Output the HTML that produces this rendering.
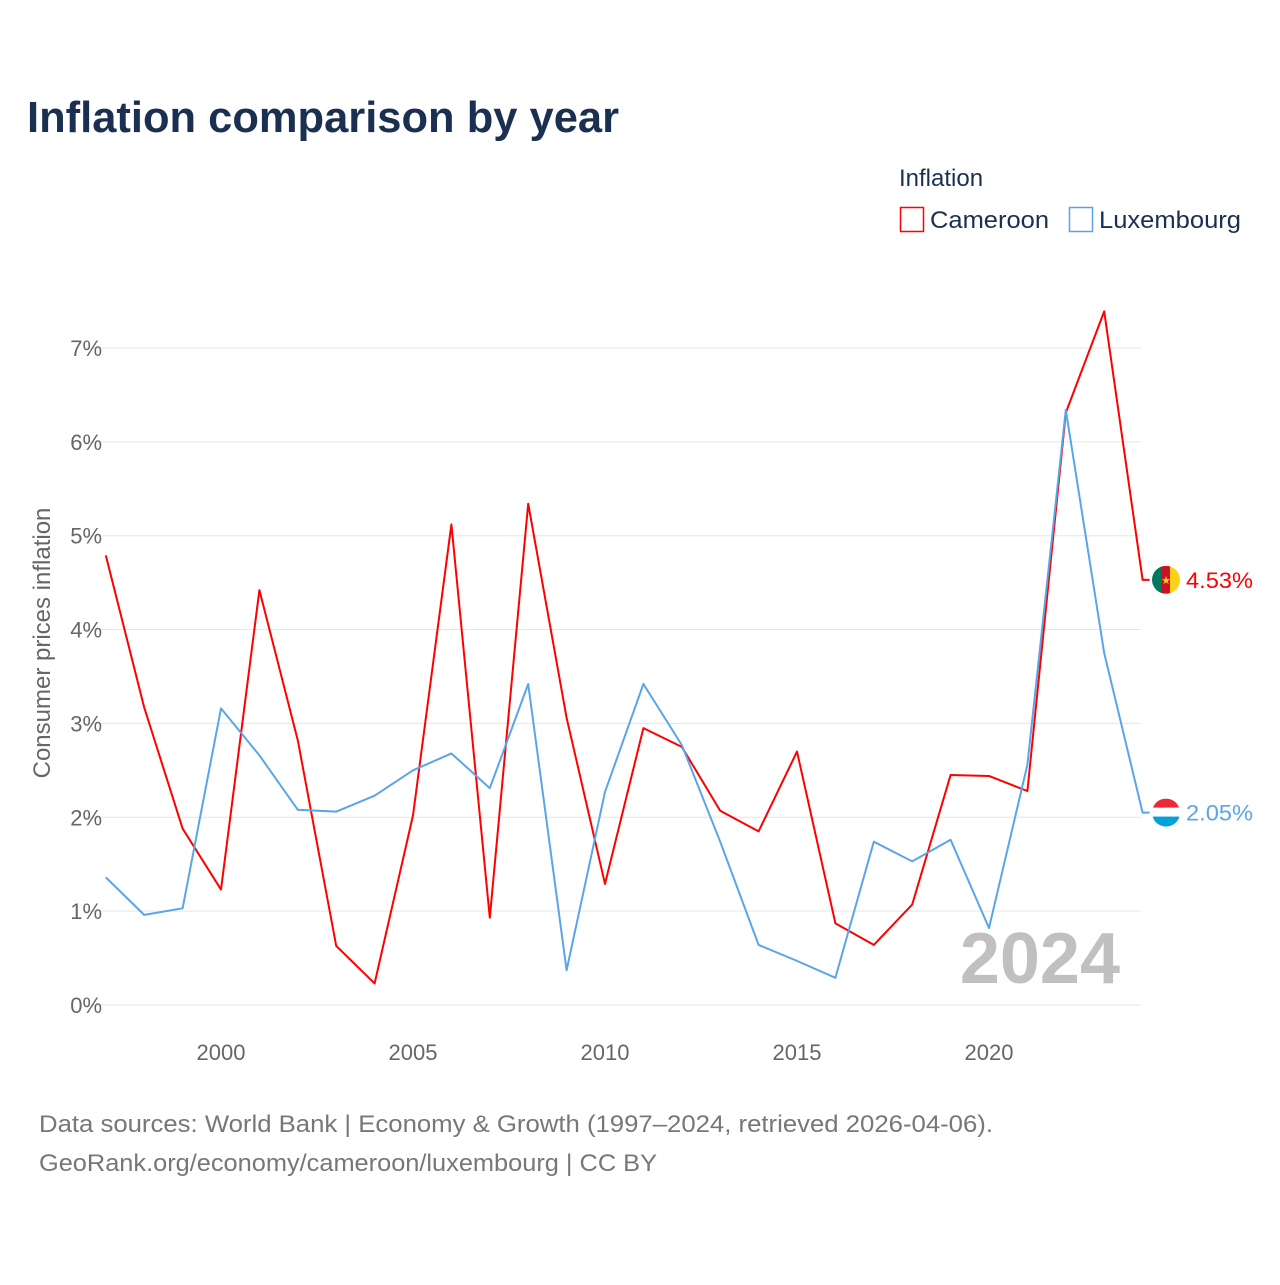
<!DOCTYPE html>
<html><head><meta charset="utf-8"><style>
body{margin:0;background:#fff;font-family:"Liberation Sans",sans-serif}
svg text{font-family:"Liberation Sans",sans-serif}
</style></head><body>
<svg id="chart" width="1280" height="1280" xmlns="http://www.w3.org/2000/svg">
<rect width="1280" height="1280" fill="#fff"/>
<text x="27" y="132" font-size="44" font-weight="bold" fill="#1b3050" textLength="592" lengthAdjust="spacingAndGlyphs">Inflation comparison by year</text>
<text x="899" y="186" font-size="24" fill="#1b3050">Inflation</text>
<g><rect x="900.5" y="207.5" width="23" height="24" fill="none" stroke="#f00" stroke-width="1.5"/><text x="930" y="228" font-size="24" fill="#1b3050" textLength="119" lengthAdjust="spacingAndGlyphs">Cameroon</text></g>
<g><rect x="1069.5" y="207.5" width="23" height="24" fill="none" stroke="#5aa5ea" stroke-width="1.5"/><text x="1099" y="228" font-size="24" fill="#1b3050" textLength="142" lengthAdjust="spacingAndGlyphs">Luxembourg</text></g>
<g id="grid"></g><g id="yt"></g><g id="xt"></g>
<text x="1120" y="983" font-size="72" font-weight="bold" fill="#c0c0c0" text-anchor="end">2024</text>
<text transform="translate(50,643) rotate(-90)" font-size="24" fill="#666" text-anchor="middle">Consumer prices inflation</text>
<g id="series"></g>
<text x="39" y="1132" font-size="24" fill="#777" textLength="954" lengthAdjust="spacingAndGlyphs">Data sources: World Bank | Economy &amp; Growth (1997–2024, retrieved 2026-04-06).</text>
<text x="39" y="1171" font-size="24" fill="#777" textLength="618" lengthAdjust="spacingAndGlyphs">GeoRank.org/economy/cameroon/luxembourg | CC BY</text>
</svg>
<script>
const years=[1997,1998,1999,2000,2001,2002,2003,2004,2005,2006,2007,2008,2009,2010,2011,2012,2013,2014,2015,2016,2017,2018,2019,2020,2021,2022,2023,2024];
const cameroon=[4.79,3.17,1.88,1.23,4.42,2.82,0.63,0.23,2.02,5.12,0.93,5.34,3.06,1.29,2.95,2.75,2.07,1.85,2.70,0.87,0.64,1.07,2.45,2.44,2.28,6.31,7.39,4.53];
const luxembourg=[1.36,0.96,1.03,3.16,2.66,2.08,2.06,2.23,2.50,2.68,2.31,3.42,0.37,2.27,3.42,2.77,1.74,0.64,0.47,0.29,1.74,1.53,1.76,0.82,2.56,6.34,3.75,2.05];
const yTicks=[0,1,2,3,4,5,6,7];
const xTicks=[2000,2005,2010,2015,2020];
const NS="http://www.w3.org/2000/svg";
const x=v=>221+(v-2000)*38.4;
const y=v=>1005-v*93.86;
function el(t,a,p){const e=document.createElementNS(NS,t);for(const k in a)e.setAttribute(k,a[k]);p.appendChild(e);return e;}
const g=document.getElementById('grid'),yt=document.getElementById('yt'),xt=document.getElementById('xt'),s=document.getElementById('series');
yTicks.forEach(t=>{
 const l=el('line',{x1:85,x2:1141,y1:y(t),y2:y(t),stroke:'#e6e6e6','stroke-width':1},g);
 
 
 const tx=el('text',{x:102,y:y(t)+8,'font-size':22,fill:'#666','text-anchor':'end'},yt);
 tx.textContent=t+'%';
 
 
});
xTicks.forEach(t=>{
 const tx=el('text',{x:x(t),y:1060,'font-size':22,fill:'#666','text-anchor':'middle'},xt);
 tx.textContent=t;
 
 
});
function line(vals,col,name){
 const pts=vals.map((v,i)=>x(years[i])+','+y(v)).join(' ');
 const last=vals[vals.length-1];
 const p=el('polyline',{points:pts+' '+(x(2024)+7)+','+y(last),fill:'none',stroke:col,'stroke-width':2,'stroke-linejoin':'round'},s);
 
 
 const lb=el('text',{x:1186,y:y(last)+8,'font-size':22,fill:col,textLength:67,lengthAdjust:'spacingAndGlyphs'},s);
 lb.textContent=last.toFixed(2)+'%';
 
 
 return y(last);
}
const cy=line(cameroon,'#f00','cameroon');
const ly=line(luxembourg,'#5aa5ea','luxembourg');
const defs=el('defs',{},s);
const c1=el('clipPath',{id:'cc'},defs);el('circle',{cx:1166,cy:cy,r:14},c1);
const c2=el('clipPath',{id:'lc'},defs);el('circle',{cx:1166,cy:ly,r:14},c2);
const f1=el('g',{'clip-path':'url(#cc)'},s);


el('rect',{x:1152,y:cy-14,width:10,height:28,fill:'#007a5e'},f1);
el('rect',{x:1161,y:cy-14,width:10,height:28,fill:'#ce1126'},f1);
el('rect',{x:1170,y:cy-14,width:10,height:28,fill:'#fcd116'},f1);
el('text',{x:1166,y:cy+4,'font-size':11,fill:'#fcd116','text-anchor':'middle'},f1).textContent='★';
const f2=el('g',{'clip-path':'url(#lc)'},s);


el('rect',{x:1152,y:ly-14,width:28,height:10,fill:'#ed2939'},f2);
el('rect',{x:1152,y:ly-5,width:28,height:10,fill:'#fff'},f2);
el('rect',{x:1152,y:ly+4,width:28,height:10,fill:'#00a1de'},f2);
</script>
</body></html>
